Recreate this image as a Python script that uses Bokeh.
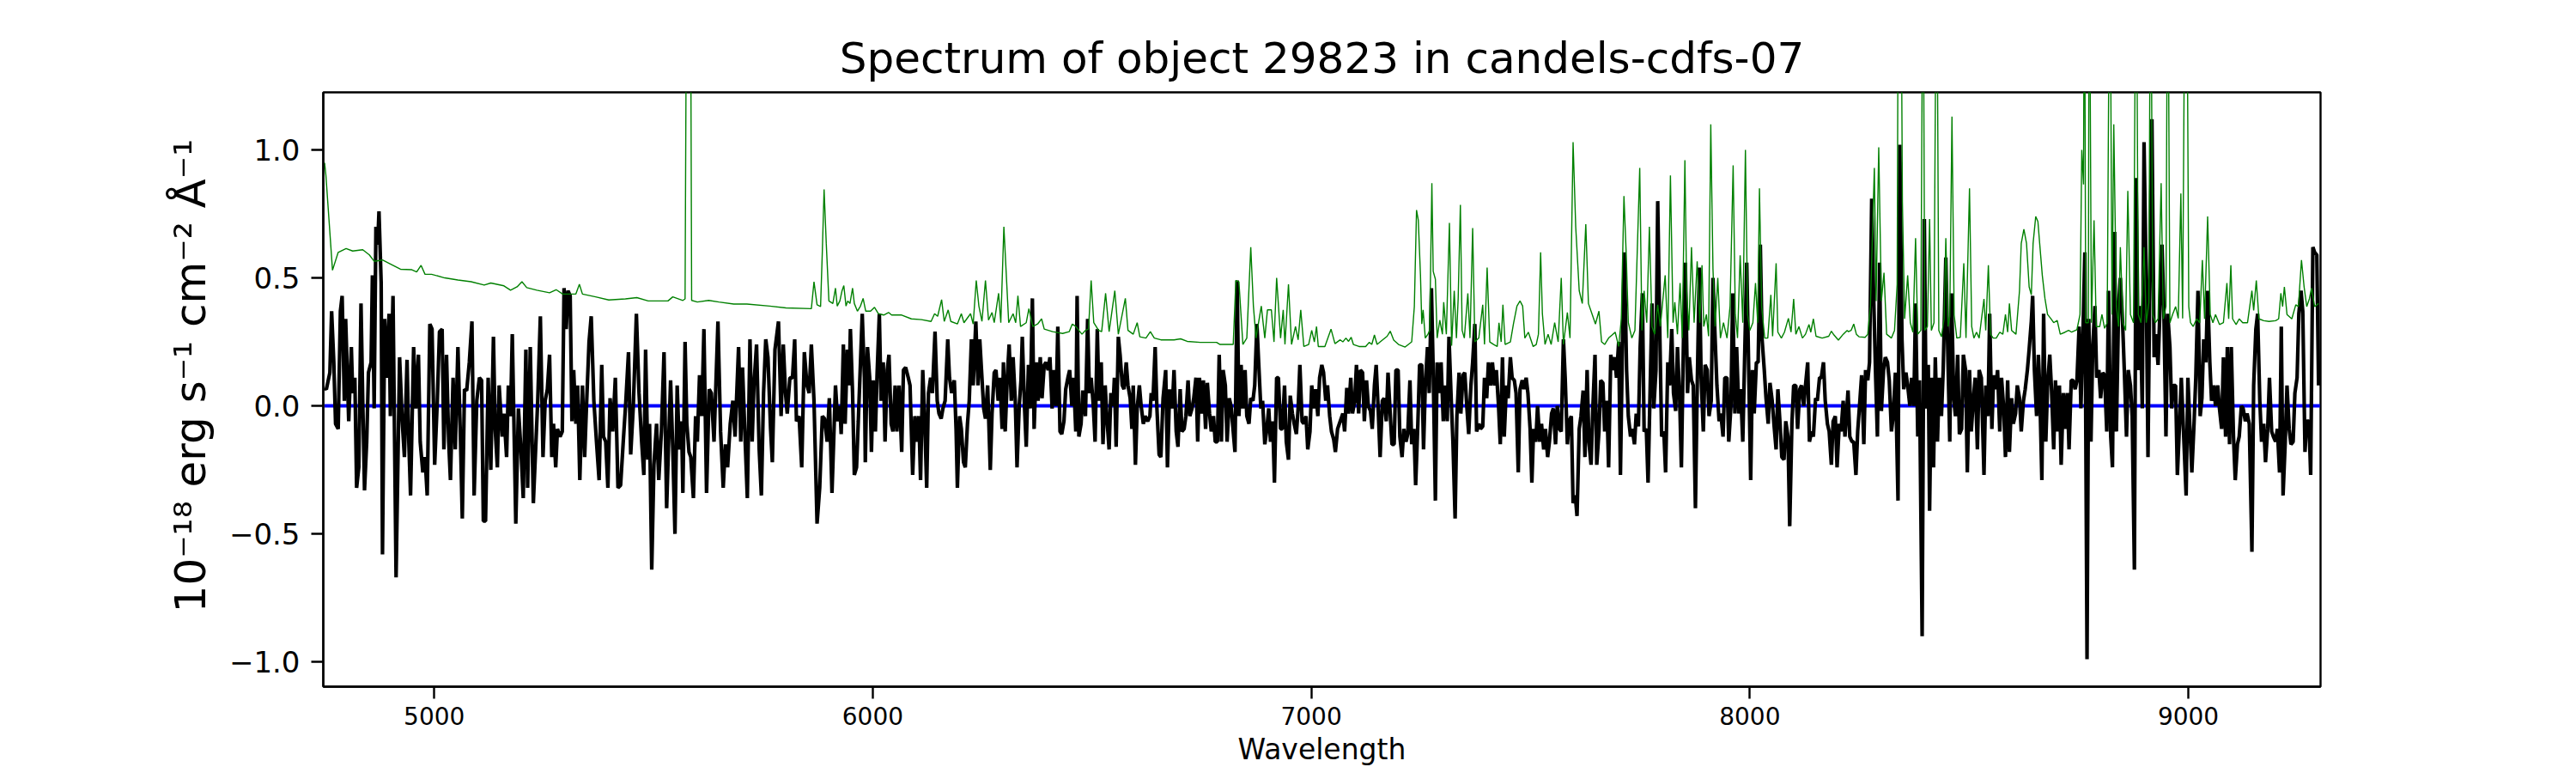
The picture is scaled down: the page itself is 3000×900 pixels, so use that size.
from bokeh.plotting import figure
from bokeh.models import Range1d, FixedTicker, CustomJSTickFormatter, ColumnDataSource
from bokeh.embed import file_html
from bokeh.resources import INLINE

title_text = "Spectrum of object 29823 in candels-cdfs-07"
x_label = "Wavelength"
y_label = "\u00a0\u00a010\u207b\u00b9\u2078 erg s\u207b\u00b9 cm\u207b\u00b2 \u00c5\u207b\u00b9"
x_ticks = [5000, 6000, 7000, 8000, 9000]
y_ticks = [-1.0, -0.5, 0.0, 0.5, 1.0]
x_limits = (4747, 9301.5)
y_limits = (-1.097, 1.225)

# flux spectrum (wavelength, flux)
flux_4750_5910 = [
    (4750, 0.07), (4754, 0.065), (4762, 0.13), (4766, 0.37), (4771, 0.17), (4775, -0.07), (4781, -0.09), (4786, 0.37),
    (4790, 0.43), (4795, 0.02), (4798, 0.34), (4801, 0.17), (4805, -0.06), (4811, 0.23), (4814, 0.05), (4819, 0.11),
    (4823, -0.32), (4828, -0.24), (4833, 0.40), (4837, 0.02), (4841, -0.33), (4846, -0.14), (4850, 0.13), (4856, 0.17),
    (4859, 0.51), (4863, -0.01), (4867, 0.70), (4871, 0.63), (4874, 0.76), (4879, 0.48), (4882, -0.58), (4887, 0.34),
    (4891, 0.11), (4897, 0.36), (4900, -0.04), (4906, 0.43), (4913, -0.67), (4921, 0.19), (4927, -0.06), (4932, -0.20),
    (4938, 0.18), (4942, -0.14), (4946, -0.35), (4953, 0.23), (4958, -0.01), (4964, 0.20), (4968, -0.14), (4974, -0.26),
    (4979, -0.20), (4984, -0.35), (4990, 0.32), (4995, 0.30), (5001, -0.23), (5007, 0.02), (5012, 0.29), (5018, 0.30),
    (5022, -0.17), (5028, 0.20), (5033, -0.14), (5037, -0.29), (5043, 0.11), (5048, -0.17), (5054, 0.23), (5060, -0.14),
    (5064, -0.44), (5069, 0.065), (5074, 0.06), (5080, 0.17), (5086, 0.33), (5091, -0.35), (5097, 0.02), (5103, 0.11),
    (5108, 0.10), (5112, -0.45), (5117, -0.45), (5123, 0.11), (5129, -0.25), (5135, 0.27), (5139, -0.09), (5144, -0.24),
    (5148, 0.08), (5155, -0.12), (5159, -0.03), (5165, -0.20), (5169, 0.08), (5174, -0.04), (5178, 0.28), (5186, -0.46),
    (5192, -0.01), (5198, -0.18), (5203, -0.36), (5209, 0.22), (5213, -0.32), (5219, 0.23), (5226, -0.38), (5232, -0.14),
    (5236, 0.02), (5242, 0.35), (5248, -0.20), (5253, 0.02), (5258, 0.065), (5263, 0.20), (5268, -0.20), (5272, -0.07),
    (5277, -0.24), (5281, -0.09), (5287, -0.12), (5292, -0.10), (5296, 0.46), (5301, 0.30), (5305, 0.45), (5310, 0.43),
    (5314, -0.06), (5318, 0.14), (5323, -0.07), (5327, 0.08), (5332, -0.29), (5338, 0.08), (5343, -0.20), (5347, -0.01),
    (5353, 0.25), (5358, 0.35), (5364, 0.02), (5370, -0.14), (5376, -0.29), (5382, 0.16), (5386, -0.12), (5391, -0.14),
    (5396, -0.32), (5401, 0.03), (5407, -0.10), (5413, 0.11), (5419, -0.32), (5425, -0.31), (5431, -0.14), (5437, 0.02),
    (5443, 0.21), (5448, -0.19), (5454, 0.0), (5461, 0.36), (5467, 0.05), (5473, -0.14), (5478, -0.27), (5482, 0.22),
    (5487, -0.21), (5491, -0.07), (5496, -0.64), (5501, -0.23), (5507, -0.07), (5512, -0.29), (5518, -0.10), (5524, 0.21),
    (5530, -0.40), (5534, -0.17), (5539, 0.10), (5544, -0.17), (5549, -0.50), (5554, 0.08), (5559, -0.17), (5564, -0.06),
    (5567, -0.34), (5572, 0.25), (5576, -0.07), (5581, -0.18), (5585, -0.20), (5591, -0.36), (5596, -0.04), (5600, -0.14),
    (5605, 0.12), (5610, -0.04), (5615, 0.30), (5621, -0.34), (5627, 0.065), (5632, 0.05), (5638, -0.14), (5647, 0.33),
    (5653, -0.10), (5659, -0.32), (5664, -0.15), (5669, -0.24), (5675, -0.07), (5681, 0.02), (5686, -0.12), (5694, 0.23),
    (5699, -0.14), (5703, 0.15), (5708, -0.09), (5714, -0.36), (5720, 0.26), (5725, -0.14), (5729, 0.08), (5735, 0.24),
    (5741, -0.17), (5746, -0.35), (5751, 0.05), (5756, 0.26), (5761, 0.19), (5767, -0.09), (5771, -0.22), (5777, 0.22),
    (5785, 0.33), (5791, -0.04), (5796, 0.24), (5801, 0.05), (5805, -0.03), (5811, 0.11), (5817, 0.11), (5822, 0.26),
    (5826, -0.06), (5832, -0.04), (5838, -0.24), (5844, 0.21), (5850, 0.08), (5855, 0.05), (5860, 0.24), (5866, 0.02),
    (5873, -0.46), (5879, -0.32), (5885, -0.04), (5890, -0.05), (5896, -0.14), (5901, 0.03), (5907, -0.34),
]
flux_5910_7060 = [
    (5915, 0.08), (5920, -0.06), (5925, 0.0), (5928, -0.11), (5933, 0.24), (5937, -0.07), (5942, 0.22), (5946, 0.08),
    (5949, 0.30), (5954, 0.05), (5958, -0.27), (5963, -0.24), (5967, -0.06), (5972, 0.17), (5976, 0.36), (5981, 0.11),
    (5983, -0.22), (5988, 0.23), (5993, 0.11), (5997, -0.18), (6001, 0.10), (6006, -0.10), (6010, 0.13), (6015, 0.36),
    (6019, 0.02), (6024, 0.17), (6028, -0.14), (6033, 0.14), (6037, 0.20), (6042, -0.07), (6046, -0.10), (6051, 0.08),
    (6055, -0.10), (6060, 0.08), (6066, -0.18), (6070, 0.14), (6075, 0.15), (6081, 0.11), (6085, 0.08), (6091, -0.27),
    (6096, -0.04), (6100, -0.14), (6105, -0.04), (6109, -0.29), (6114, 0.14), (6118, -0.03), (6123, -0.32), (6127, 0.05),
    (6132, 0.11), (6136, 0.05), (6142, 0.29), (6147, 0.02), (6151, -0.03), (6156, -0.05), (6160, -0.01), (6165, 0.02),
    (6171, 0.26), (6175, 0.11), (6180, 0.05), (6186, 0.10), (6190, -0.09), (6193, -0.32), (6198, -0.04), (6202, -0.09),
    (6207, -0.22), (6211, -0.24), (6216, -0.07), (6220, 0.02), (6225, 0.26), (6229, 0.08), (6235, 0.33), (6240, 0.08),
    (6244, 0.26), (6248, 0.14), (6253, -0.01), (6257, -0.05), (6262, 0.08), (6268, -0.25), (6272, -0.03), (6277, 0.13),
    (6281, 0.14), (6286, 0.02), (6290, 0.11), (6295, -0.09), (6298, 0.17), (6302, -0.10), (6307, 0.12), (6311, 0.24),
    (6316, 0.02), (6320, 0.19), (6325, 0.02), (6329, -0.24), (6334, 0.0), (6338, 0.10), (6341, 0.27), (6346, 0.0),
    (6350, -0.16), (6355, 0.16), (6359, -0.01), (6364, 0.42), (6368, -0.09), (6373, 0.17), (6377, 0.02), (6382, 0.19),
    (6386, 0.03), (6391, 0.16), (6395, 0.17), (6400, 0.14), (6404, 0.19), (6409, -0.01), (6413, 0.14), (6418, 0.0),
    (6422, 0.31), (6427, -0.10), (6431, -0.11), (6436, -0.06), (6440, 0.065), (6445, 0.11), (6449, 0.14), (6454, 0.0),
    (6458, 0.11), (6463, -0.10), (6466, 0.43), (6470, -0.12), (6475, -0.07), (6479, 0.06), (6485, -0.04), (6490, 0.34),
    (6494, 0.05), (6498, 0.11), (6503, 0.0), (6507, -0.14), (6512, 0.30), (6516, 0.02), (6521, 0.17), (6525, -0.15),
    (6530, 0.08), (6534, -0.05), (6539, -0.17), (6543, 0.05), (6548, 0.0), (6551, 0.11), (6555, -0.16), (6560, 0.27),
    (6564, 0.20), (6569, 0.08), (6573, 0.065), (6578, 0.17), (6582, 0.08), (6587, 0.03), (6591, -0.09), (6594, 0.08),
    (6599, -0.23), (6603, -0.01), (6608, 0.08), (6612, 0.0), (6617, -0.07), (6621, -0.04), (6627, -0.06), (6632, -0.04),
    (6635, 0.05), (6639, 0.02), (6644, 0.23), (6648, -0.01), (6653, -0.19), (6657, -0.20), (6662, 0.03), (6668, 0.14),
    (6672, -0.24), (6677, 0.065), (6683, -0.01), (6687, 0.14), (6692, -0.10), (6696, -0.16), (6701, 0.065), (6705, -0.10),
    (6710, -0.09), (6714, -0.04), (6719, 0.10), (6723, -0.04), (6728, -0.01), (6732, 0.03), (6737, 0.11), (6741, -0.14),
    (6745, 0.11), (6750, -0.03), (6754, 0.10), (6759, -0.09), (6763, 0.09), (6768, -0.03), (6772, -0.10), (6777, -0.04),
    (6781, -0.14), (6786, -0.14), (6790, 0.20), (6795, -0.14), (6799, 0.14), (6804, 0.08), (6808, -0.14), (6813, 0.03),
    (6817, 0.0), (6822, -0.10), (6826, -0.18), (6831, 0.49), (6835, -0.04), (6840, 0.16), (6844, -0.01), (6849, 0.14),
    (6853, -0.04), (6858, -0.07), (6862, 0.03), (6867, 0.02), (6871, 0.08), (6876, 0.32), (6880, 0.17), (6885, -0.01),
    (6889, 0.02), (6894, -0.15), (6898, -0.10), (6903, -0.01), (6907, -0.14), (6912, -0.06), (6916, -0.30), (6921, 0.11),
    (6925, 0.11), (6930, -0.09), (6934, -0.09), (6939, 0.08), (6943, -0.14), (6948, -0.21), (6952, 0.04), (6957, -0.03),
    (6961, -0.07), (6966, -0.11), (6970, -0.01), (6974, 0.16), (6979, -0.06), (6983, -0.07), (6988, -0.04), (6992, -0.17),
    (6997, -0.10), (7001, 0.08), (7006, -0.01), (7010, 0.065), (7015, -0.04), (7019, 0.11), (7024, 0.16), (7028, 0.13),
    (7033, 0.02), (7037, 0.08), (7042, -0.04), (7046, -0.10), (7051, -0.13), (7055, -0.18), (7060, -0.09),
]
flux_7060_8220 = [
    (7072, -0.03), (7076, -0.10), (7081, 0.07), (7085, -0.03), (7090, 0.11), (7094, -0.03), (7099, 0.02), (7103, 0.16),
    (7108, -0.03), (7112, 0.14), (7117, 0.13), (7121, -0.06), (7126, 0.10), (7130, 0.0), (7135, -0.02), (7139, -0.09),
    (7144, 0.08), (7148, 0.16), (7153, -0.03), (7157, -0.20), (7162, 0.02), (7166, 0.03), (7171, -0.06), (7175, 0.13),
    (7180, -0.03), (7184, -0.15), (7189, -0.15), (7193, 0.14), (7198, 0.14), (7202, -0.12), (7207, -0.20), (7211, -0.09),
    (7216, -0.14), (7220, -0.11), (7225, 0.10), (7229, -0.15), (7234, -0.09), (7238, -0.31), (7243, -0.07), (7247, 0.16),
    (7252, 0.16), (7256, -0.17), (7260, 0.08), (7265, 0.23), (7269, 0.05), (7274, 0.46), (7278, 0.14), (7283, -0.37),
    (7287, 0.17), (7292, 0.05), (7296, 0.17), (7301, -0.06), (7305, 0.08), (7310, -0.06), (7314, 0.27), (7319, 0.03),
    (7323, -0.14), (7328, -0.44), (7332, -0.04), (7337, 0.13), (7341, -0.03), (7346, 0.12), (7350, 0.13), (7355, -0.01),
    (7359, -0.11), (7364, 0.08), (7368, 0.17), (7373, 0.32), (7377, -0.10), (7382, -0.07), (7386, -0.09), (7391, -0.08),
    (7395, 0.11), (7400, 0.03), (7404, 0.17), (7409, 0.08), (7413, 0.17), (7418, 0.08), (7422, 0.14), (7427, 0.0),
    (7431, -0.15), (7436, 0.19), (7440, -0.12), (7445, 0.08), (7449, 0.03), (7454, 0.19), (7458, 0.11), (7463, 0.10),
    (7467, 0.05), (7472, -0.26), (7476, 0.065), (7481, 0.10), (7485, 0.065), (7490, 0.11), (7494, 0.05), (7499, -0.09),
    (7503, -0.30), (7507, -0.09), (7512, -0.14), (7516, 0.0), (7521, -0.14), (7525, -0.07), (7530, -0.17), (7534, -0.09),
    (7539, -0.20), (7543, -0.14), (7548, -0.03), (7552, -0.01), (7557, -0.15), (7561, 0.0), (7566, -0.09), (7570, -0.10),
    (7575, 0.26), (7579, 0.11), (7584, -0.15), (7588, -0.06), (7593, -0.04), (7597, -0.38), (7602, -0.35), (7606, -0.43),
    (7611, -0.09), (7615, -0.04), (7620, 0.06), (7624, -0.20), (7629, 0.14), (7633, -0.14), (7638, -0.23), (7642, -0.01),
    (7647, 0.20), (7651, -0.23), (7656, -0.10), (7660, 0.10), (7665, 0.09), (7669, -0.10), (7674, 0.02), (7678, -0.24),
    (7683, 0.20), (7687, 0.14), (7692, 0.19), (7696, 0.11), (7701, 0.25), (7705, -0.27), (7710, 0.30), (7714, 0.60),
    (7719, 0.14), (7723, -0.04), (7728, -0.12), (7732, -0.09), (7737, -0.15), (7741, -0.03), (7746, -0.08), (7750, 0.23),
    (7755, 0.44), (7759, -0.10), (7764, -0.09), (7768, -0.30), (7772, 0.01), (7777, 0.40), (7781, -0.01), (7786, 0.14),
    (7790, 0.80), (7795, 0.26), (7799, -0.12), (7804, -0.10), (7808, -0.26), (7813, 0.17), (7817, 0.08), (7822, 0.30),
    (7826, 0.05), (7831, -0.02), (7835, 0.23), (7840, 0.03), (7844, -0.24), (7849, 0.28), (7853, 0.56), (7858, 0.05),
    (7862, 0.19), (7867, 0.10), (7871, 0.08), (7876, -0.40), (7880, 0.065), (7885, 0.54), (7889, 0.11), (7894, -0.10),
    (7898, 0.16), (7903, 0.14), (7907, -0.04), (7912, 0.02), (7916, 0.50), (7921, 0.26), (7925, 0.08), (7930, -0.06),
    (7934, -0.03), (7939, -0.12), (7943, 0.11), (7948, 0.11), (7952, -0.14), (7957, 0.0), (7961, 0.44), (7966, -0.03),
    (7970, 0.23), (7975, -0.03), (7979, 0.065), (7984, -0.14), (7988, 0.17), (7993, 0.56), (7997, 0.19), (8002, -0.29),
    (8006, 0.14), (8010, -0.03), (8015, 0.17), (8019, 0.17), (8024, 0.63), (8028, 0.26), (8033, 0.14), (8037, 0.03),
    (8042, -0.07), (8046, 0.09), (8051, 0.02), (8055, -0.07), (8060, -0.17), (8064, 0.065), (8069, -0.07), (8073, -0.20),
    (8078, -0.21), (8082, -0.06), (8087, -0.12), (8091, -0.47), (8096, -0.07), (8100, 0.08), (8105, 0.08), (8109, -0.09),
    (8114, 0.065), (8118, 0.08), (8123, 0.0), (8127, 0.08), (8132, 0.17), (8136, -0.14), (8141, -0.10), (8145, -0.12),
    (8150, 0.03), (8154, 0.02), (8159, 0.11), (8163, 0.11), (8168, 0.17), (8172, 0.02), (8177, -0.07), (8181, -0.10),
    (8186, -0.23), (8190, -0.06), (8195, -0.04), (8199, -0.24), (8204, -0.07), (8208, -0.10), (8213, 0.02), (8217, -0.12),
]
flux_8220_9300 = [
    (8224, 0.06), (8228, -0.12), (8233, -0.14), (8237, -0.14), (8242, -0.27), (8246, -0.10), (8251, 0.02), (8255, 0.12),
    (8260, -0.15), (8264, 0.14), (8269, 0.10), (8273, 0.17), (8278, 0.81), (8282, 0.46), (8287, 0.11), (8291, -0.12),
    (8296, 0.56), (8300, -0.02), (8305, 0.14), (8309, 0.19), (8314, 0.17), (8318, 0.10), (8323, -0.10), (8327, -0.04),
    (8332, 0.13), (8338, -0.37), (8342, 1.02), (8347, 0.26), (8351, 0.065), (8356, 0.13), (8360, 0.08), (8365, 0.0),
    (8369, 0.11), (8374, 0.0), (8378, 0.40), (8383, -0.12), (8387, 0.10), (8393, -0.90), (8398, 0.73), (8402, -0.01),
    (8407, 0.16), (8410, -0.41), (8414, 0.11), (8419, -0.24), (8423, 0.19), (8428, -0.14), (8432, 0.11), (8437, -0.04),
    (8441, 0.14), (8447, 0.58), (8452, 0.17), (8456, -0.14), (8460, 0.44), (8465, 0.03), (8469, -0.04), (8474, 0.20),
    (8478, -0.11), (8483, -0.09), (8487, 0.20), (8492, 0.14), (8496, -0.26), (8501, 0.14), (8505, -0.10), (8510, 0.03),
    (8514, 0.11), (8519, -0.17), (8523, 0.14), (8528, 0.11), (8534, -0.27), (8538, 0.08), (8543, -0.04), (8547, 0.36),
    (8552, -0.09), (8556, 0.12), (8561, 0.065), (8565, 0.14), (8570, -0.10), (8574, 0.11), (8579, -0.01), (8583, -0.20),
    (8588, 0.10), (8592, -0.18), (8597, 0.03), (8601, -0.07), (8606, -0.03), (8610, 0.08), (8615, 0.03), (8619, -0.10),
    (8624, 0.02), (8628, 0.065), (8633, 0.14), (8637, 0.22), (8642, 0.33), (8645, 0.43), (8649, 0.14), (8654, -0.04),
    (8658, 0.20), (8661, 0.08), (8666, -0.29), (8670, 0.36), (8675, -0.14), (8679, 0.08), (8684, 0.20), (8688, 0.065),
    (8693, -0.17), (8697, 0.10), (8702, -0.10), (8706, 0.08), (8710, -0.23), (8715, 0.05), (8719, -0.09), (8724, 0.05),
    (8728, -0.17), (8733, 0.10), (8737, 0.10), (8742, 0.065), (8746, 0.10), (8751, 0.31), (8755, -0.01), (8760, 0.30),
    (8764, 0.60), (8769, -0.99), (8773, 0.34), (8778, -0.14), (8782, 0.23), (8787, 0.39), (8791, 0.11), (8796, 0.14),
    (8800, 0.03), (8805, 0.13), (8809, 0.12), (8814, -0.10), (8818, 0.45), (8823, -0.12), (8827, -0.24), (8832, 0.68),
    (8836, -0.10), (8841, 0.39), (8845, 0.50), (8850, 0.33), (8854, 0.14), (8859, -0.12), (8863, 0.14), (8868, 0.08),
    (8872, -0.04), (8877, -0.64), (8881, 0.89), (8886, 0.14), (8890, 0.39), (8895, -0.01), (8899, 1.03), (8904, 0.48),
    (8908, -0.20), (8913, 0.63), (8917, 1.12), (8922, 0.19), (8926, 0.28), (8931, 0.16), (8935, 0.36), (8940, 0.63),
    (8944, 0.39), (8949, -0.12), (8953, 0.36), (8958, 0.23), (8962, -0.01), (8966, 0.08), (8971, 0.08), (8975, -0.27),
    (8980, -0.07), (8984, 0.11), (8989, -0.10), (8995, -0.35), (8999, 0.11), (9004, -0.10), (9008, -0.26), (9013, -0.07),
    (9017, 0.11), (9022, 0.45), (9027, -0.04), (9031, 0.03), (9035, 0.26), (9040, 0.17), (9044, 0.45), (9049, 0.17),
    (9053, 0.02), (9058, 0.08), (9062, 0.0), (9067, 0.08), (9071, -0.01), (9076, -0.09), (9080, 0.19), (9085, -0.12),
    (9089, 0.23), (9094, -0.15), (9098, 0.23), (9103, -0.12), (9107, -0.29), (9112, -0.15), (9116, -0.12), (9121, 0.0),
    (9125, -0.01), (9130, -0.06), (9134, -0.03), (9139, -0.07), (9145, -0.57), (9149, 0.08), (9154, 0.30), (9158, 0.36),
    (9163, 0.02), (9167, -0.14), (9172, -0.07), (9176, -0.22), (9181, -0.09), (9185, 0.11), (9190, -0.10), (9194, -0.12),
    (9199, -0.14), (9203, -0.09), (9208, -0.26), (9212, 0.31), (9216, -0.35), (9221, -0.14), (9225, 0.08), (9230, -0.09),
    (9234, -0.15), (9239, -0.14), (9243, 0.05), (9248, 0.11), (9252, 0.36), (9257, 0.45), (9261, 0.37), (9266, -0.18),
    (9270, -0.06), (9275, -0.06), (9279, -0.27), (9284, 0.62), (9288, 0.60), (9293, 0.59), (9297, 0.08),
]

# noise / error spectrum (wavelength, sigma); 2.0 marks lines that run off the top
err_4750_5910 = [
    (4750, 0.95), (4753, 0.90), (4768, 0.53), (4781, 0.60), (4799, 0.615), (4814, 0.605), (4837, 0.61), (4852, 0.59), (4863, 0.565),
    (4882, 0.57), (4897, 0.557), (4923, 0.534), (4949, 0.532), (4960, 0.523), (4970, 0.549), (4979, 0.514), (4994, 0.514),
    (5024, 0.50), (5054, 0.492), (5084, 0.485), (5114, 0.472), (5129, 0.48), (5159, 0.469), (5174, 0.452), (5189, 0.465),
    (5200, 0.485), (5211, 0.462), (5234, 0.452), (5263, 0.442), (5278, 0.454), (5293, 0.437), (5323, 0.437), (5331, 0.475),
    (5338, 0.437), (5368, 0.426), (5398, 0.414), (5436, 0.418), (5462, 0.423), (5488, 0.41), (5533, 0.41), (5544, 0.426),
    (5567, 0.412), (5572, 0.418), (5576, 2.0), (5584, 2.0), (5587, 0.412), (5600, 0.406), (5626, 0.412), (5649, 0.406),
    (5683, 0.398), (5713, 0.398), (5765, 0.39), (5802, 0.383), (5860, 0.38), (5866, 0.485), (5873, 0.395), (5881, 0.388),
    (5885, 0.603), (5889, 0.846), (5894, 0.634), (5900, 0.41), (5909, 0.40),
]
err_5910_7060 = [
    (5915, 0.46), (5919, 0.39), (5925, 0.41), (5930, 0.45), (5934, 0.47), (5939, 0.39), (5943, 0.41), (5948, 0.40),
    (5954, 0.46), (5958, 0.40), (5965, 0.37), (5972, 0.39), (5978, 0.42), (5984, 0.37), (5995, 0.37), (6004, 0.385),
    (6013, 0.36), (6025, 0.355), (6036, 0.365), (6043, 0.355), (6066, 0.355), (6088, 0.34), (6111, 0.337), (6133, 0.33),
    (6141, 0.36), (6148, 0.35), (6157, 0.415), (6163, 0.33), (6172, 0.375), (6178, 0.33), (6193, 0.32), (6202, 0.36),
    (6208, 0.325), (6223, 0.36), (6229, 0.32), (6236, 0.49), (6242, 0.39), (6249, 0.33), (6257, 0.49), (6264, 0.335),
    (6272, 0.365), (6277, 0.325), (6287, 0.44), (6292, 0.325), (6299, 0.70), (6304, 0.53), (6310, 0.325), (6320, 0.36),
    (6326, 0.325), (6331, 0.43), (6337, 0.31), (6350, 0.325), (6356, 0.38), (6365, 0.31), (6376, 0.32), (6385, 0.34),
    (6391, 0.30), (6410, 0.29), (6433, 0.283), (6448, 0.29), (6455, 0.32), (6463, 0.31), (6477, 0.28), (6485, 0.295),
    (6492, 0.30), (6498, 0.49), (6504, 0.325), (6515, 0.295), (6522, 0.29), (6531, 0.44), (6539, 0.29), (6552, 0.45),
    (6560, 0.28), (6576, 0.42), (6582, 0.295), (6594, 0.28), (6603, 0.325), (6609, 0.27), (6623, 0.265), (6633, 0.29),
    (6642, 0.265), (6657, 0.258), (6687, 0.258), (6702, 0.262), (6717, 0.252), (6747, 0.248), (6784, 0.248), (6792, 0.24),
    (6822, 0.24), (6828, 0.49), (6835, 0.485), (6844, 0.24), (6853, 0.265), (6862, 0.62), (6868, 0.39), (6874, 0.265),
    (6886, 0.39), (6894, 0.265), (6900, 0.375), (6909, 0.375), (6915, 0.25), (6921, 0.50), (6930, 0.265), (6936, 0.375),
    (6940, 0.24), (6948, 0.475), (6955, 0.24), (6964, 0.31), (6970, 0.258), (6976, 0.375), (6983, 0.232), (6994, 0.24),
    (7001, 0.295), (7007, 0.25), (7012, 0.31), (7016, 0.232), (7031, 0.232), (7045, 0.30), (7054, 0.243), (7066, 0.258),
]
err_7060_8220 = [
    (7072, 0.25), (7079, 0.265), (7085, 0.252), (7091, 0.268), (7096, 0.24), (7109, 0.232), (7124, 0.232), (7132, 0.248),
    (7138, 0.24), (7144, 0.277), (7150, 0.24), (7162, 0.257), (7173, 0.272), (7180, 0.292), (7188, 0.257), (7199, 0.24),
    (7214, 0.23), (7229, 0.25), (7235, 0.388), (7240, 0.765), (7244, 0.726), (7249, 0.51), (7252, 0.32), (7255, 0.375),
    (7260, 0.265), (7266, 0.28), (7270, 0.295), (7275, 0.87), (7278, 0.526), (7283, 0.495), (7287, 0.265), (7293, 0.335),
    (7299, 0.28), (7302, 0.405), (7308, 0.28), (7315, 0.715), (7320, 0.235), (7326, 0.45), (7331, 0.265), (7335, 0.42),
    (7340, 0.785), (7344, 0.295), (7349, 0.265), (7357, 0.44), (7362, 0.265), (7368, 0.695), (7373, 0.25), (7382, 0.265),
    (7391, 0.395), (7395, 0.24), (7401, 0.54), (7407, 0.25), (7416, 0.24), (7424, 0.232), (7428, 0.325), (7433, 0.25),
    (7437, 0.395), (7442, 0.24), (7454, 0.25), (7461, 0.32), (7469, 0.39), (7476, 0.41), (7482, 0.39), (7487, 0.265),
    (7495, 0.288), (7506, 0.232), (7513, 0.24), (7518, 0.28), (7523, 0.60), (7527, 0.36), (7533, 0.24), (7540, 0.28),
    (7547, 0.24), (7555, 0.325), (7563, 0.25), (7570, 0.50), (7575, 0.24), (7584, 0.365), (7590, 0.265), (7597, 1.03),
    (7603, 0.70), (7611, 0.45), (7618, 0.40), (7626, 0.71), (7632, 0.40), (7641, 0.355), (7648, 0.32), (7656, 0.37),
    (7662, 0.25), (7669, 0.24), (7678, 0.265), (7686, 0.277), (7693, 0.288), (7701, 0.232), (7707, 0.34), (7713, 0.82),
    (7718, 0.60), (7723, 0.325), (7731, 0.265), (7738, 0.295), (7749, 0.93), (7754, 0.295), (7759, 0.45), (7765, 0.325),
    (7771, 0.70), (7777, 0.31), (7783, 0.28), (7790, 0.395), (7796, 0.31), (7807, 0.51), (7813, 0.265), (7819, 0.90),
    (7825, 0.325), (7829, 0.405), (7835, 0.28), (7841, 0.48), (7846, 0.265), (7852, 0.96), (7856, 0.45), (7861, 0.295),
    (7867, 0.62), (7873, 0.325), (7880, 0.565), (7886, 0.325), (7891, 0.55), (7895, 0.31), (7901, 0.357), (7906, 0.272),
    (7911, 1.10), (7916, 0.535), (7921, 0.31), (7927, 0.50), (7933, 0.265), (7940, 0.325), (7948, 0.265), (7955, 0.39),
    (7962, 0.94), (7967, 0.357), (7972, 0.265), (7978, 0.588), (7984, 0.325), (7990, 1.0), (7995, 0.357), (8000, 0.295),
    (8007, 0.325), (8013, 0.48), (8018, 0.325), (8022, 0.85), (8027, 0.388), (8034, 0.265), (8041, 0.265), (8048, 0.434),
    (8052, 0.272), (8060, 0.557), (8064, 0.288), (8072, 0.265), (8079, 0.288), (8088, 0.342), (8094, 0.288), (8100, 0.418),
    (8105, 0.28), (8112, 0.31), (8120, 0.265), (8127, 0.28), (8135, 0.318), (8139, 0.288), (8145, 0.34), (8151, 0.272),
    (8165, 0.265), (8180, 0.272), (8186, 0.292), (8192, 0.277), (8202, 0.257), (8213, 0.28), (8222, 0.295),
]
err_8220_9300 = [
    (8225, 0.29), (8231, 0.295), (8237, 0.32), (8243, 0.28), (8249, 0.27), (8263, 0.268), (8269, 0.28), (8275, 0.39),
    (8279, 0.63), (8284, 0.93), (8288, 0.41), (8294, 1.01), (8300, 0.41), (8306, 0.52), (8312, 0.28), (8323, 0.265),
    (8330, 0.295), (8336, 0.475), (8339, 2.0), (8344, 2.0), (8348, 0.795), (8353, 0.34), (8360, 0.51), (8366, 0.325),
    (8372, 0.288), (8378, 0.655), (8383, 0.28), (8390, 0.295), (8395, 2.0), (8399, 0.295), (8405, 0.31), (8410, 0.73),
    (8414, 0.295), (8420, 0.325), (8426, 2.0), (8431, 0.295), (8437, 0.27), (8443, 0.34), (8447, 0.655), (8452, 0.31),
    (8456, 0.35), (8461, 1.13), (8466, 0.355), (8472, 0.265), (8480, 0.268), (8488, 0.557), (8493, 0.265), (8501, 0.85),
    (8506, 0.31), (8511, 0.265), (8517, 0.288), (8523, 0.265), (8534, 0.418), (8538, 0.295), (8544, 0.55), (8549, 0.28),
    (8555, 0.265), (8562, 0.265), (8570, 0.288), (8577, 0.28), (8583, 0.357), (8588, 0.288), (8592, 0.40), (8597, 0.295),
    (8607, 0.28), (8615, 0.45), (8619, 0.635), (8625, 0.69), (8631, 0.635), (8637, 0.465), (8642, 0.434), (8646, 0.635),
    (8652, 0.74), (8657, 0.72), (8661, 0.635), (8667, 0.51), (8673, 0.42), (8679, 0.357), (8686, 0.342), (8693, 0.325),
    (8701, 0.334), (8708, 0.28), (8719, 0.288), (8727, 0.295), (8734, 0.288), (8746, 0.298), (8753, 0.357), (8757, 1.0),
    (8761, 0.865), (8763, 2.0), (8766, 0.325), (8772, 0.325), (8774, 2.0), (8779, 0.325), (8785, 0.725), (8790, 0.31),
    (8798, 0.31), (8803, 0.357), (8809, 0.303), (8815, 0.325), (8821, 2.0), (8826, 0.357), (8830, 1.10), (8836, 0.388),
    (8841, 0.31), (8845, 0.62), (8851, 0.325), (8857, 0.295), (8862, 0.84), (8868, 0.357), (8875, 0.325), (8881, 2.0),
    (8886, 0.357), (8892, 0.325), (8899, 0.62), (8904, 0.325), (8910, 0.403), (8914, 2.0), (8919, 0.357), (8925, 0.325),
    (8931, 0.34), (8938, 0.87), (8943, 0.34), (8949, 0.388), (8953, 2.0), (8958, 0.325), (8964, 0.357), (8971, 0.388),
    (8977, 0.342), (8983, 0.83), (8987, 0.342), (8993, 2.0), (8996, 2.0), (9001, 0.388), (9005, 0.325), (9011, 0.31),
    (9019, 0.34), (9026, 0.325), (9032, 0.57), (9037, 0.34), (9044, 0.74), (9050, 0.357), (9056, 0.325), (9062, 0.357),
    (9071, 0.318), (9080, 0.325), (9088, 0.48), (9092, 0.34), (9097, 0.55), (9101, 0.34), (9109, 0.318), (9116, 0.34),
    (9124, 0.325), (9135, 0.325), (9145, 0.45), (9149, 0.373), (9155, 0.49), (9161, 0.34), (9172, 0.333), (9184, 0.33),
    (9199, 0.333), (9206, 0.34), (9211, 0.44), (9215, 0.388), (9219, 0.465), (9225, 0.357), (9236, 0.34), (9245, 0.395),
    (9251, 0.388), (9258, 0.57), (9264, 0.465), (9270, 0.388), (9276, 0.418), (9281, 0.46), (9288, 0.388), (9297, 0.40),
]

zero_wave = [4750, 9300]
zero_level = [0.0, 0.0]

flux_pts = flux_4750_5910 + flux_5910_7060 + flux_7060_8220 + flux_8220_9300
err_pts = err_4750_5910 + err_5910_7060 + err_7060_8220 + err_8220_9300
flux_src = ColumnDataSource(dict(w=[a for a, b in flux_pts], f=[b for a, b in flux_pts]))
err_src = ColumnDataSource(dict(w=[a for a, b in err_pts], e=[b for a, b in err_pts]))

FONT = "DejaVu Sans"

p = figure(
    frame_width=2326, frame_height=692,
    min_border_left=376, min_border_right=282, min_border_top=107, min_border_bottom=20,
    x_range=Range1d(*x_limits), y_range=Range1d(*y_limits),
    output_backend="svg", toolbar_location=None,
    title=title_text,
)
p.background_fill_color = "white"
p.border_fill_color = "white"
p.outline_line_color = "black"
p.outline_line_width = 2.4
p.outline_line_alpha = 1.0
p.grid.visible = False

p.title.text_font = FONT
p.title.text_font_size = "50px"
p.title.text_font_style = "normal"
p.title.align = "center"
p.title.text_color = "black"
p.title.standoff = 21

for ax in (p.xaxis[0], p.yaxis[0]):
    ax.axis_line_color = "black"
    ax.axis_line_width = 2.4
    ax.major_tick_line_color = "black"
    ax.major_tick_line_width = 2.4
    ax.major_tick_out = 14
    ax.major_tick_in = 0
    ax.minor_tick_out = 0
    ax.minor_tick_in = 0
    ax.major_label_text_font = FONT
    ax.major_label_text_color = "black"
    ax.axis_label_text_font = FONT
    ax.axis_label_text_font_style = "normal"
    ax.axis_label_text_color = "black"

p.xaxis.ticker = FixedTicker(ticks=x_ticks)
p.xaxis.major_label_text_font_size = "28px"
p.xaxis.major_label_standoff = 9
p.xaxis.axis_label = x_label
p.xaxis.axis_label_text_font_size = "33px"
p.xaxis.axis_label_standoff = 6

p.yaxis.ticker = FixedTicker(ticks=y_ticks)
p.yaxis.formatter = CustomJSTickFormatter(code="return tick.toFixed(1).replace('-', '\u2212');")
p.yaxis.major_label_text_font_size = "34px"
p.yaxis.major_label_standoff = 13
p.yaxis.axis_label = y_label
p.yaxis.axis_label_text_font_size = "50px"
p.yaxis.axis_label_standoff = 13

p.line(zero_wave, zero_level, line_color="#0000ff", line_width=4)
p.line("w", "f", source=flux_src, line_color="black", line_width=4.2)
p.line("w", "e", source=err_src, line_color="#008000", line_width=1.4)

open("out.html", "w").write(file_html(p, INLINE))
